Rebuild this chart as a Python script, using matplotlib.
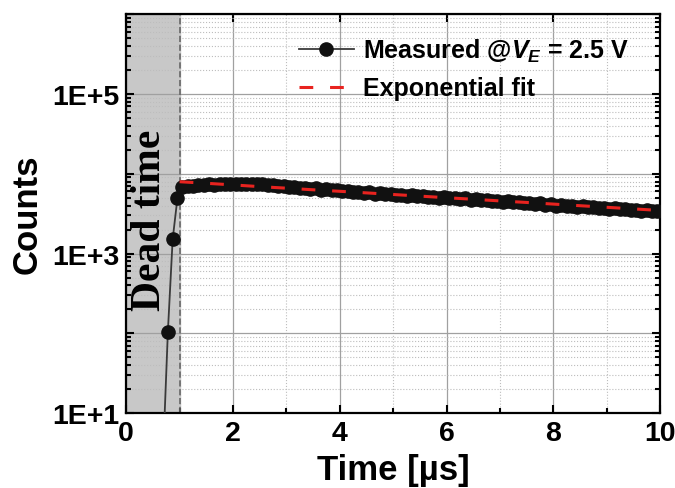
import numpy as np
import matplotlib
matplotlib.use('Agg')
import matplotlib.pyplot as plt
from matplotlib.ticker import LogLocator, FuncFormatter, MultipleLocator, NullFormatter

plt.rcParams['font.family'] = ['Liberation Sans', 'DejaVu Sans']
plt.rcParams['font.weight'] = 'bold'
plt.rcParams['mathtext.fontset'] = 'custom'
plt.rcParams['mathtext.it'] = 'Liberation Sans:italic:bold'
plt.rcParams['mathtext.rm'] = 'Liberation Sans:bold'

# rising edge (inside dead time)
t_rise = [0.69, 0.78, 0.87, 0.96]
c_rise = [3, 105, 1520, 5000]

# measured counts after dead time, 0.1 us steps from 1.05 us
t_meas = np.round(np.arange(1.05, 10.06, 0.1), 2)
c_meas = [6900, 7100, 7100, 7250, 7250, 7400, 7300, 7450, 7450, 7550,
          7450, 7500, 7400, 7450, 7350, 7400, 7200, 7250, 7000, 7050,
          6850, 6900, 6650, 6700, 6500, 6550, 6300, 6400, 6200, 6250,
          6000, 6100, 5900, 5950, 5750, 5850, 5650, 5700, 5500, 5600,
          5400, 5450, 5300, 5350, 5200, 5250, 5100, 5150, 5000, 5050,
          4900, 5000, 4850, 4900, 4750, 4800, 4650, 4700, 4550, 4600,
          4450, 4500, 4400, 4400, 4300, 4350, 4200, 4250, 4100, 4150,
          4000, 4050, 3950, 3950, 3850, 3900, 3800, 3800, 3750, 3750,
          3650, 3700, 3600, 3600, 3550, 3550, 3450, 3500, 3400, 3450,
          3450]

# exponential fit, read at 0.5 us steps
t_fit = [1.0, 1.5, 2.0, 2.5, 3.0, 3.5, 4.0, 4.5, 5.0, 5.5,
         6.0, 6.5, 7.0, 7.5, 8.0, 8.5, 9.0, 9.5, 10.0]
c_fit = [7950, 7600, 7250, 6900, 6600, 6300, 6030, 5760, 5500, 5250,
         5010, 4790, 4570, 4370, 4170, 3980, 3800, 3630, 3470]

dead_time = 1.0

fig = plt.figure(figsize=(6.75, 4.89), dpi=100)
ax = fig.add_axes([0.187, 0.153, 0.791, 0.816])

ax.axvspan(0, dead_time, color='#c8c8c8', zorder=0)
ax.axvline(dead_time, color='#666666', ls='--', lw=1.2, zorder=1)

t_all = list(t_rise) + list(t_meas)
c_all = list(c_rise) + list(c_meas)
ax.plot(t_all, c_all, color='#3a3a3a', lw=1.3, marker='o', ms=9.5,
        mfc='#111111', mec='#111111', zorder=3,
        label=r'Measured @$V_E$ = 2.5 V')
ax.plot(t_fit, c_fit, color='#e8231f', lw=2.2, ls=(0, (4.5, 5.5)), zorder=4,
        label='Exponential fit')

ax.set_yscale('log')
ax.set_xlim(0, 10)
ax.set_ylim(10, 1e6)

ax.xaxis.set_major_locator(MultipleLocator(2))
ax.xaxis.set_minor_locator(MultipleLocator(1))
ax.yaxis.set_major_locator(LogLocator(base=10, numticks=10))
ax.yaxis.set_minor_locator(LogLocator(base=10, subs=np.arange(2, 10), numticks=20))
ax.yaxis.set_minor_formatter(NullFormatter())


def fmt(v, pos):
    e = int(round(np.log10(v)))
    return '1E+%d' % e if e % 2 == 1 else ''


ax.yaxis.set_major_formatter(FuncFormatter(fmt))

ax.grid(which='major', color='#a0a0a0', lw=0.9, ls='-')
ax.grid(which='minor', color='#bdbdbd', lw=0.8, ls=':')
ax.set_axisbelow(True)

ax.tick_params(which='both', direction='in', top=True, right=True,
               labelsize=20.5, width=1.5)
ax.tick_params(which='major', length=6, pad=5)
ax.tick_params(which='minor', length=3.5)
ax.tick_params(axis='x', which='minor', top=False)
for s in ax.spines.values():
    s.set_linewidth(1.6)

ax.set_xlabel('Time [µs]', fontsize=25, fontweight='bold', labelpad=5)
ax.set_ylabel('Counts', fontsize=25, fontweight='bold', labelpad=6)

ax.text(0.45, 2700, 'Dead time', rotation=90, ha='center', va='center',
        fontsize=30, fontweight='bold', family=['Liberation Serif'])

ax.legend(loc='upper left', bbox_to_anchor=(0.3, 0.975), frameon=False,
          fontsize=18, handlelength=2.2, handletextpad=0.35,
          labelspacing=0.5, borderpad=0)

fig.savefig('out.png', dpi=100)
